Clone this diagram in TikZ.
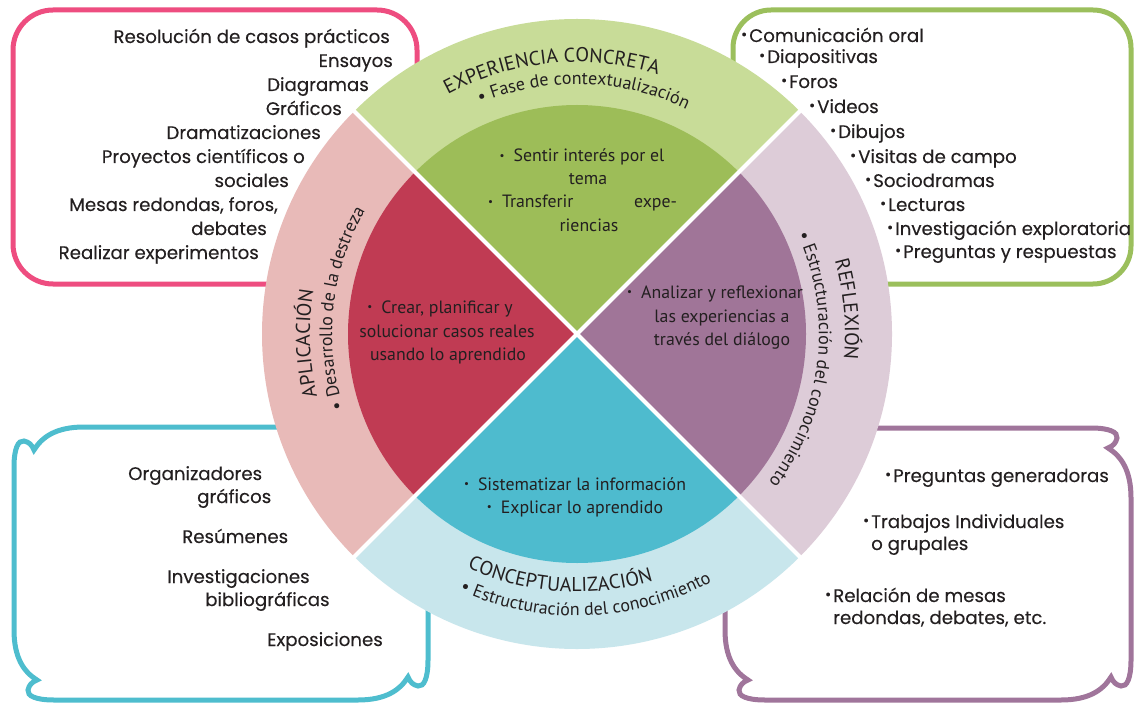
\documentclass[tikz,border=0pt]{standalone}
\usepackage{fontspec}
\setmainfont{PT Sans}
\newfontfamily\gotham[FakeBold=0.2]{Poppins}
\usetikzlibrary{calc,decorations.text}
\definecolor{txt}{HTML}{231F20}
\definecolor{ringG}{HTML}{C8DC98}
\definecolor{inG}{HTML}{9DBD58}
\definecolor{ringL}{HTML}{E8BAB8}
\definecolor{inL}{HTML}{C03B53}
\definecolor{ringR}{HTML}{DDCCD8}
\definecolor{inR}{HTML}{A07598}
\definecolor{ringB}{HTML}{C8E6EC}
\definecolor{inB}{HTML}{4EBBCE}
\definecolor{boxP}{HTML}{EE4D80}
\definecolor{boxG}{HTML}{9BBF5C}
\definecolor{boxC}{HTML}{4EBDCE}
\definecolor{boxV}{HTML}{A0759B}
\newcommand\boxfont{\gotham\fontsize{18.2}{24}\selectfont}
\newcommand\infont{\fontsize{17.8}{23.5}\selectfont}
\newcommand\ringA{\fontsize{20}{20}\selectfont}
\newcommand\ringB{\fontsize{18}{18}\selectfont}
\newcommand\bb{\llap{\raisebox{2.5pt}{\fontsize{15}{15}\selectfont•}\hspace{2pt}}}
\newcommand\ib{\makebox[14pt][l]{\raisebox{2.5pt}{\fontsize{11}{11}\selectfont•}}}
\newcommand\ringtext[5]{\path[decorate,decoration={text along path,text align=center,text color=txt,text={|#4|#5}}] ($(C)+(#2:#1pt)$) arc[start angle=#2,end angle=#3,radius=#1pt];}
\newcommand\pillow[5]{\draw[#5]
 ({#1},{-#2-40}) .. controls ({#1},{-#2-22}) and ({#1+4},{-#2-13}) .. ({#1+10},{-#2-14}) .. controls ({#1+15},{-#2-15}) and ({#1+18},{-#2-18}) .. ({#1+20},{-#2-23}) .. controls ({#1+28},{-#2-10}) and ({#1+42},{-#2}) .. ({#1+70},{-#2})
 -- ({#3-40},{-#2}) .. controls ({#3-22},{-#2}) and ({#3-13},{-#2-4}) .. ({#3-14},{-#2-10}) .. controls ({#3-15},{-#2-15}) and ({#3-18},{-#2-18}) .. ({#3-23},{-#2-20}) .. controls ({#3-10},{-#2-28}) and ({#3},{-#2-42}) .. ({#3},{-#2-70})
 -- ({#3},{-#4+40}) .. controls ({#3},{-#4+22}) and ({#3-4},{-#4+13}) .. ({#3-10},{-#4+14}) .. controls ({#3-15},{-#4+15}) and ({#3-18},{-#4+18}) .. ({#3-20},{-#4+23}) .. controls ({#3-28},{-#4+10}) and ({#3-42},{-#4}) .. ({#3-70},{-#4})
 -- ({#1+40},{-#4}) .. controls ({#1+22},{-#4}) and ({#1+13},{-#4+4}) .. ({#1+14},{-#4+10}) .. controls ({#1+15},{-#4+15}) and ({#1+18},{-#4+18}) .. ({#1+23},{-#4+20}) .. controls ({#1+10},{-#4+28}) and ({#1},{-#4+42}) .. ({#1},{-#4+70}) -- cycle;}
\tikzset{
  boxtxt/.style={font=\boxfont, text=txt, inner sep=0pt},
  intxt/.style={font=\infont, text=txt, inner sep=0pt, anchor=base},
  frame/.style={line width=5pt},
}
\begin{document}
\begin{tikzpicture}[x=1pt,y=1pt]
\fill[white] (0,0) rectangle (1134,-703);
\useasboundingbox (0,0) rectangle (1134,-703);
\coordinate (C) at (577,-334);
% boxes
\draw[frame, boxP, rounded corners=40pt] (13,-10) rectangle (417,-284);
\draw[frame, boxG, rounded corners=38pt] (733,-10) rectangle (1131,-284);
\pillow{14}{427}{428}{700}{frame, boxC}
\pillow{725}{428}{1131}{700}{frame, boxV}
% ring
\fill[ringG] (C) -- ($(C)+(45:315pt)$) arc[start angle=45,end angle=135,radius=315pt] -- cycle;
\fill[ringL] (C) -- ($(C)+(135:315pt)$) arc[start angle=135,end angle=225,radius=315pt] -- cycle;
\fill[ringB] (C) -- ($(C)+(225:315pt)$) arc[start angle=225,end angle=315,radius=315pt] -- cycle;
\fill[ringR] (C) -- ($(C)+(-45:315pt)$) arc[start angle=-45,end angle=45,radius=315pt] -- cycle;
\fill[inG] (C) -- ($(C)+(45:229pt)$) arc[start angle=45,end angle=135,radius=229pt] -- cycle;
\fill[inL] (C) -- ($(C)+(135:229pt)$) arc[start angle=135,end angle=225,radius=229pt] -- cycle;
\fill[inB] (C) -- ($(C)+(225:229pt)$) arc[start angle=225,end angle=315,radius=229pt] -- cycle;
\fill[inR] (C) -- ($(C)+(-45:229pt)$) arc[start angle=-45,end angle=45,radius=229pt] -- cycle;
\draw[white, line width=4pt] ($(C)+(45:317pt)$) -- ($(C)+(225:317pt)$);
\draw[white, line width=4pt] ($(C)+(135:317pt)$) -- ($(C)+(-45:317pt)$);
% ring texts
\ringtext{272}{145.5}{45.5}{\ringA}{EXPERIENCIA CONCRETA}
\ringtext{250}{138.4}{38.4}{\ringB}{• Fase de contextualización}
\ringtext{267}{232}{132}{\ringA}{APLICACIÓN}
\ringtext{245}{223.7}{123.7}{\ringB}{• Desarrollo de la destreza}
\ringtext{268}{55.2}{-44.8}{\ringA}{REFLEXIÓN}
\ringtext{242}{43.3}{-56.7}{\ringB}{• Estructuración del conocimiento}
\ringtext{258}{216}{316}{\ringA}{CONCEPTUALIZACIÓN}
\ringtext{282}{222}{322}{\ringB}{• Estructuración del conocimiento}
% inner texts
\node[intxt] (g1) at (582,-162) {\ib Sentir interés por el};
\node[intxt] (g2) at (588,-185) {tema};
\node[intxt] (g3) at (582.5,-208) {\makebox[189pt][l]{\ib Transferir\hfill expe-}};
\node[intxt] (g4) at (589,-232) {riencias};
\node[intxt] (r1) at (440,-313) {\ib Crear, planificar y};
\node[intxt] (r2) at (447,-337) {solucionar casos reales};
\node[intxt] (r3) at (448,-360) {usando lo aprendido};
\node[intxt] (p1) at (715,-298) {\ib Analizar y reflexionar};
\node[intxt] (p2) at (722,-322) {las experiencias a};
\node[intxt] (p3) at (722,-345) {través del diálogo};
\node[intxt] (t1) at (575,-490) {\ib Sistematizar la información};
\node[intxt] (t2) at (575,-513) {\ib Explicar lo aprendido};
% top-left box
\node[boxtxt, anchor=base east] (a1) at (390,-43) {Resolución de casos prácticos};
\node[boxtxt, anchor=base east] (a2) at (393,-67) {Ensayos};
\node[boxtxt, anchor=base east] (a3) at (369,-91) {Diagramas};
\node[boxtxt, anchor=base east] (a4) at (342,-115) {Gráficos};
\node[boxtxt, anchor=base east] (a5) at (321,-139) {Dramatizaciones};
\node[boxtxt, anchor=base east] (a6) at (305,-163) {Proyectos científicos o};
\node[boxtxt, anchor=base east] (a7) at (289,-187) {sociales};
\node[boxtxt, anchor=base east] (a8) at (278,-211) {Mesas redondas, foros,};
\node[boxtxt, anchor=base east] (a9) at (267,-235) {debates};
\node[boxtxt, anchor=base east] (a10) at (259,-259) {Realizar experimentos};
% top-right box
\node[boxtxt, anchor=base west] (b1) at (749,-42) {\bb Comunicación oral};
\node[boxtxt, anchor=base west] (b2) at (767,-63) {\bb Diapositivas};
\node[boxtxt, anchor=base west] (b3) at (789,-88) {\bb Foros};
\node[boxtxt, anchor=base west] (b4) at (817,-113) {\bb Videos};
\node[boxtxt, anchor=base west] (b5) at (838,-138) {\bb Dibujos};
\node[boxtxt, anchor=base west] (b6) at (858,-163) {\bb Visitas de campo};
\node[boxtxt, anchor=base west] (b7) at (873,-187) {\bb Sociodramas};
\node[boxtxt, anchor=base west] (b8) at (888,-211) {\bb Lecturas};
\node[boxtxt, anchor=base west] (b9) at (895,-235) {\bb Investigación exploratoria};
\node[boxtxt, anchor=base west] (b10) at (903,-258) {\bb Preguntas y respuestas};
% bottom-left box
\node[boxtxt, anchor=base west] (c1) at (128,-480) {Organizadores};
\node[boxtxt, anchor=base west] (c2) at (197,-503) {gráficos};
\node[boxtxt, anchor=base west] (c3) at (182,-543) {Resúmenes};
\node[boxtxt, anchor=base west] (c4) at (167,-583) {Investigaciones};
\node[boxtxt, anchor=base west] (c5) at (205,-606) {bibliográficas};
\node[boxtxt, anchor=base west] (c6) at (267,-646) {Exposiciones};
% bottom-right box
\node[boxtxt, anchor=base west] (d1) at (893,-482) {\bb Preguntas generadoras};
\node[boxtxt, anchor=base west] (d2) at (871,-528) {\bb Trabajos Individuales};
\node[boxtxt, anchor=base west] (d3) at (871,-550) {o grupales};
\node[boxtxt, anchor=base west] (d4) at (833,-602) {\bb Relación de mesas};
\node[boxtxt, anchor=base west] (d5) at (833,-624) {redondas, debates, etc.};
\end{tikzpicture}
\end{document}
